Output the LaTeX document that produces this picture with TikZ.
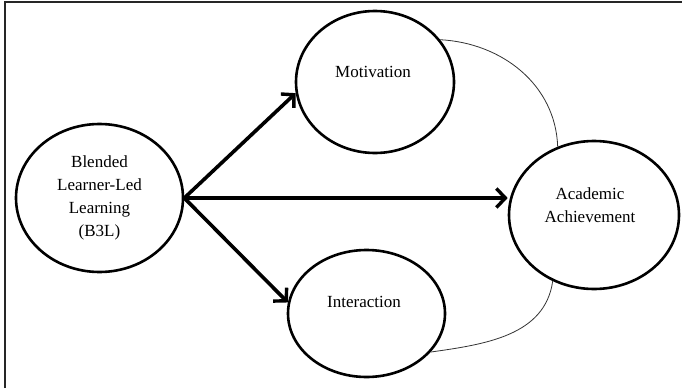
\documentclass[tikz,border=0pt]{standalone}
\usepackage{fontspec}
\setmainfont{Liberation Serif}
\usetikzlibrary{shapes.geometric,arrows.meta}
\begin{document}
\begin{tikzpicture}[x=1pt,y=-1pt,
  ell/.style={draw=black,line width=2.6pt,ellipse,inner sep=0pt,font=\fontsize{17}{23}\selectfont,align=center},
  lbl/.style={font=\fontsize{17}{23}\selectfont,align=center,inner sep=0pt},
  bigarrow/.style={line width=3.6pt,-{Straight Barb[length=9pt,width=19pt,line width=3.4pt]}},
  thin/.style={line width=0.8pt,draw=black!80}
]
\useasboundingbox (0,0) rectangle (682,388);
% frame (top and left edges only)
\draw[line width=1.6pt,draw=black!85] (5,388) -- (5,2) -- (682,2);

\node[ell,minimum width=167pt,minimum height=148pt] (b3l) at (99.5,198) {Blended\\Learner-Led\\Learning\\(B3L)};
\node[ell,minimum width=158pt,minimum height=142pt] (mot) at (375,82) {};
\node[lbl] (motT) at (373,72) {Motivation};
\node[ell,minimum width=157pt,minimum height=127pt] (int) at (366.5,313.5) {};
\node[lbl] (intT) at (364,302) {Interaction};
\node[ell,minimum width=170pt,minimum height=148pt] (aa) at (594,215) {};
\node[lbl] (aaT) at (590,205.5) {Academic\\Achievement};

\coordinate (src) at (b3l.east);
\draw[bigarrow] (src) -- (mot.188);
\draw[bigarrow] (src) -- (int.172);
\draw[bigarrow] (src) -- (src -| aa.west);

\draw[thin] (mot.33) to[out=-3,in=92] (aa.118);
\draw[thin] (aa.238) to[out=262,in=8] (int.329);
\end{tikzpicture}
\end{document}
